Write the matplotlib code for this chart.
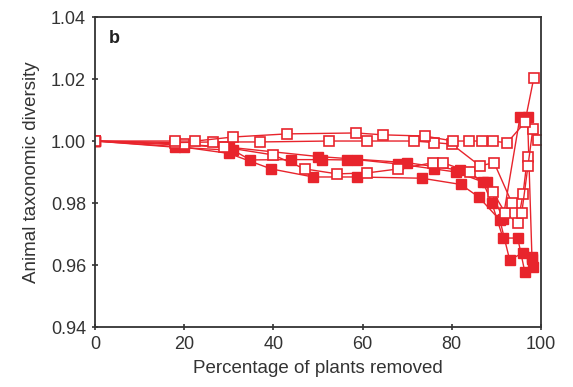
import matplotlib
matplotlib.use("Agg")
import matplotlib.pyplot as plt

plt.rcParams['font.family'] = ['Liberation Sans', 'DejaVu Sans']

RED = '#e8242c'

# Open-square series
open_a_x = [0, 18, 22.5, 31, 43, 58.5, 64.5, 74, 80.3, 83.9, 86.8, 89.2, 92.4, 96.4, 98.4]
open_a_y = [1.000, 1.000, 1.000, 1.0013, 1.0023, 1.0026, 1.002, 1.0016, 1.000, 1.000, 1.000, 1.000, 0.9994, 1.006, 1.0203]

open_b_x = [0, 18, 26.5, 37, 52.5, 61, 71.5, 76, 80, 86.3, 89.5, 93.5, 95.7, 97.1, 98.2, 99.3]
open_b_y = [1.000, 0.9995, 0.9997, 0.9997, 1.000, 1.000, 1.000, 0.9995, 0.999, 0.992, 0.993, 0.980, 0.9768, 0.992, 1.004, 1.0003]

open_c_x = [0, 20, 29, 40, 47, 54.3, 61, 68, 75.8, 78, 84, 89.2, 92, 94.8, 96, 97]
open_c_y = [1.000, 0.999, 0.998, 0.9955, 0.991, 0.9894, 0.9897, 0.991, 0.993, 0.993, 0.990, 0.9836, 0.9768, 0.9735, 0.983, 0.995]

# Filled-square series
fill_d_x = [0, 18, 31, 34.8, 44, 51, 56.5, 58.7, 68, 76, 81, 87, 89, 91.5, 94.8, 96.4, 98.2]
fill_d_y = [1.000, 0.998, 0.997, 0.9939, 0.994, 0.994, 0.9939, 0.994, 0.9926, 0.991, 0.990, 0.9868, 0.980, 0.9687, 0.9687, 0.9577, 0.9594]

fill_e_x = [0, 20, 30, 39.5, 48.9, 58.7, 73.3, 82, 86, 90.8, 93, 96, 98]
fill_e_y = [1.000, 0.998, 0.996, 0.991, 0.9884, 0.9884, 0.988, 0.986, 0.982, 0.9745, 0.9616, 0.964, 0.9626]

fill_f_x = [0, 30, 50, 70, 81.8, 87.9, 91.5, 95.3, 97, 98]
fill_f_y = [1.000, 0.998, 0.995, 0.993, 0.9906, 0.9868, 0.975, 1.0077, 1.0077, 0.962]

fig = plt.figure(figsize=(5.73, 3.87), dpi=100)
ax = fig.add_axes([0.166, 0.155, 0.778, 0.801])

ms = 7
for xs, ys in [(fill_d_x, fill_d_y), (fill_e_x, fill_e_y), (fill_f_x, fill_f_y)]:
    ax.plot(xs, ys, '-s', color=RED, lw=1.0, ms=ms, mfc=RED, mec=RED, mew=1.0)
for xs, ys in [(open_c_x, open_c_y), (open_b_x, open_b_y), (open_a_x, open_a_y)]:
    ax.plot(xs, ys, '-s', color=RED, lw=1.0, ms=ms, mfc='white', mec=RED, mew=1.2)

ax.set_xlim(0, 100)
ax.set_ylim(0.94, 1.04)
ax.set_xticks([0, 20, 40, 60, 80, 100])
ax.set_yticks([0.94, 0.96, 0.98, 1.00, 1.02, 1.04])
ax.set_yticklabels(['0.94', '0.96', '0.98', '1.00', '1.02', '1.04'])
for s in ax.spines.values():
    s.set_color('#333333')
    s.set_linewidth(1.3)
ax.tick_params(direction='inout', length=5, width=1.2, color='#333333',
               labelsize=13, labelcolor='#333333')
ax.tick_params(axis='x', pad=4)
ax.tick_params(axis='y', pad=4)
ax.set_xlabel('Percentage of plants removed', fontsize=13.5, color='#333333', labelpad=5)
ax.set_ylabel('Animal taxonomic diversity', fontsize=13.5, color='#333333', labelpad=8)
ax.text(0.03, 0.93, 'b', transform=ax.transAxes, fontsize=13, fontweight='bold',
        color='#222222', va='center', ha='left')

fig.savefig('out.png', dpi=100)
